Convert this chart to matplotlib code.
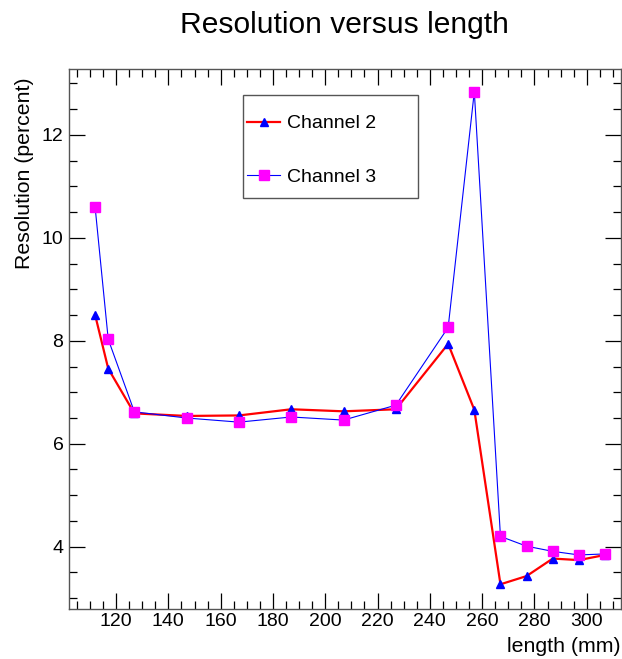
import matplotlib
matplotlib.use("Agg")
import matplotlib.pyplot as plt
from matplotlib.ticker import MultipleLocator
from matplotlib.patches import Rectangle

plt.rcParams['font.family'] = ['Liberation Sans', 'DejaVu Sans']

length_mm = [112, 117, 127, 147, 167, 187, 207, 227, 247, 257, 267, 277, 287, 297, 307]
channel2 = [8.50, 7.46, 6.59, 6.54, 6.55, 6.67, 6.63, 6.67, 7.94, 6.66, 3.27, 3.43, 3.77, 3.74, 3.84]
channel3 = [10.59, 8.03, 6.62, 6.50, 6.42, 6.52, 6.46, 6.75, 8.26, 12.84, 4.20, 4.01, 3.91, 3.84, 3.86]

title = "Resolution versus length"
xlabel = "length (mm)"
ylabel = "Resolution (percent)"

W, H = 622, 659
fig = plt.figure(figsize=(W / 100, H / 100), dpi=100)
ax = fig.add_axes([69 / W, 1 - 609 / H, 552 / W, 540 / H])

ax.plot(length_mm, channel2, color='red', lw=1.6, marker='^', ms=6,
        mfc='blue', mec='blue', label='Channel 2', zorder=3)
ax.plot(length_mm, channel3, color='blue', lw=0.8, marker='s', ms=6.5,
        mfc='magenta', mec='magenta', label='Channel 3', zorder=4)

ax.set_xlim(102, 313.1)
ax.set_ylim(2.79, 13.28)

ax.xaxis.set_major_locator(MultipleLocator(20))
ax.xaxis.set_minor_locator(MultipleLocator(5))
ax.yaxis.set_major_locator(MultipleLocator(2))
ax.yaxis.set_minor_locator(MultipleLocator(0.5))
ax.tick_params(which='both', direction='in', top=True, right=True,
               color='black', width=0.9)
ax.tick_params(which='major', length=11.5)
ax.tick_params(which='minor', length=6)
ax.tick_params(axis='x', which='major', labelsize=14, pad=3.0)
ax.tick_params(axis='y', which='major', labelsize=14, pad=4.0)
for s in ax.spines.values():
    s.set_color('#555555')
    s.set_linewidth(1.0)

leg = ax.legend(loc='center left', bbox_to_anchor=((247 - 69) / 552, (609 - 150.5) / 540),
                frameon=False, fontsize=14, labelspacing=1.86, borderpad=0,
                handlelength=1.7, handletextpad=0.35, borderaxespad=0)
ax.add_patch(Rectangle((0.315, 0.761), 0.317, 0.191, transform=ax.transAxes,
                       fill=False, edgecolor='#555555', lw=1.0, zorder=5))

fig.text(344.5 / W, 1 - 33 / H, title, fontsize=21.6, ha='center', va='baseline')
fig.text(621 / W, 1 - 646 / H, xlabel, fontsize=15.3, ha='right', va='center')
fig.text(24 / W, 1 - 77 / H, ylabel, fontsize=15.3, ha='center', va='top', rotation=90)

fig.savefig('out.png', dpi=100)
